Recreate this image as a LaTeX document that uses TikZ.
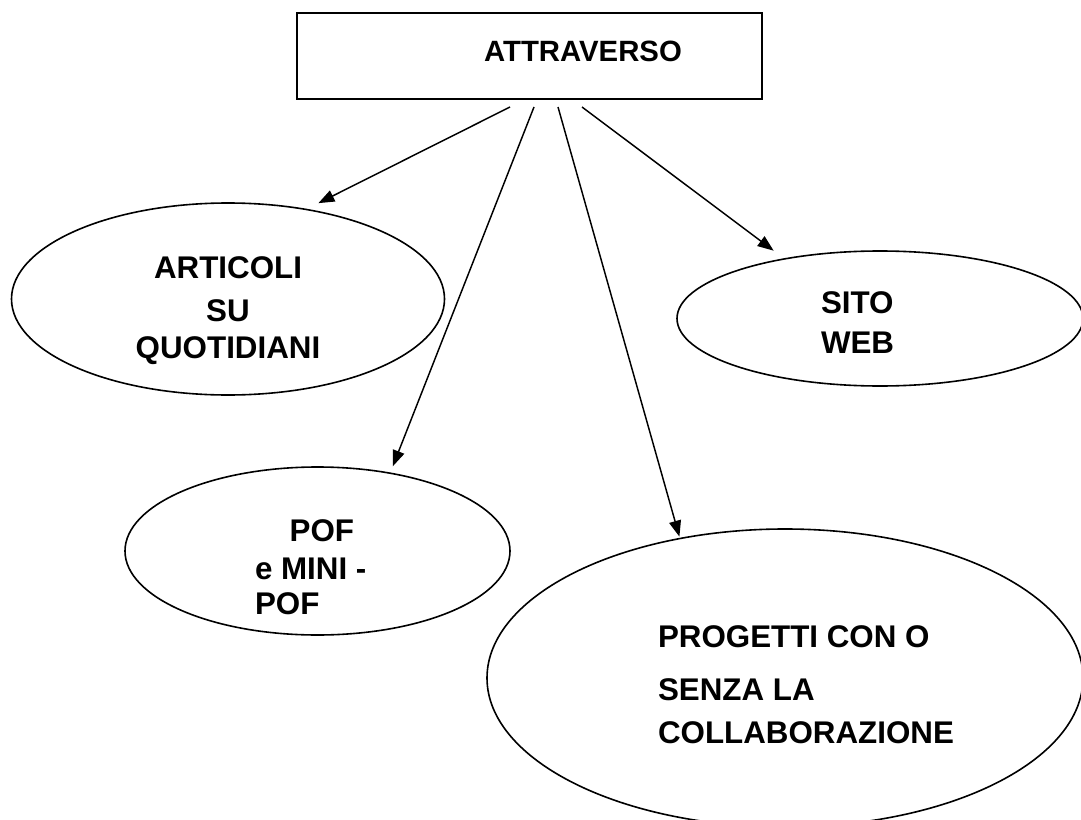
\documentclass[tikz,border=0pt]{standalone}
\usepackage{fontspec}
\setmainfont{Liberation Sans}
\usetikzlibrary{arrows.meta,shapes.geometric}
\begin{document}
\begin{tikzpicture}[x=0.75pt,y=-0.75pt,
  box/.style={draw,line width=1.5pt,rectangle,inner sep=0pt,outer sep=0pt},
  oval/.style={draw,line width=1.2pt,ellipse,inner sep=0pt,outer sep=0pt},
  txt/.style={inner sep=0pt,outer sep=0pt,font=\bfseries\fontsize{23.5}{27.75}\selectfont},
  arr/.style={line width=1.1pt,-{Triangle[length=12pt,width=9pt]}}]
\useasboundingbox (0,0) rectangle (1081,820);
% top box
\node[box,minimum width=348.75pt,minimum height=64.5pt] (top) at (529.5,56) {};
\node[txt,anchor=base,font=\bfseries\fontsize{22}{26}\selectfont] (toptxt) at (583,62) {ATTRAVERSO};
% ellipses
\node[oval,minimum width=324.75pt,minimum height=144pt] (art) at (228,299) {};
\node[oval,minimum width=304.5pt,minimum height=101.25pt] (sito) at (880,318.5) {};
\node[oval,minimum width=288.75pt,minimum height=126pt] (pof) at (317.5,551) {};
\node[oval,minimum width=447pt,minimum height=223.5pt] (prog) at (785,678) {};
% texts
\node[txt,align=center] (arttxt) at (228,311) {ARTICOLI\\[4.5pt]SU\\QUOTIDIANI};
\node[txt,align=left,anchor=west,font=\bfseries\fontsize{23.5}{30}\selectfont] (sitotxt) at (821,323) {SITO\\WEB};
\node[txt,align=left,anchor=west,font=\bfseries\fontsize{23.5}{26.25}\selectfont] (poftxt) at (255,567.5) {\hspace*{26pt}POF\\[2.25pt]e MINI -\\POF};
\node[txt,align=left,anchor=west,font=\bfseries\fontsize{23.5}{32.25}\selectfont] (progtxt) at (658,685) {PROGETTI CON O\\[7.5pt]SENZA LA\\COLLABORAZIONE};
% connector start points
\coordinate (s1) at (510,107);
\coordinate (s2) at (534,107);
\coordinate (s3) at (558,107);
\coordinate (s4) at (582,107);
% connectors
\draw[arr,shorten >=10.5pt] (s1) -- (art.49.2);
\draw[arr,shorten >=5.5pt] (s2) -- (pof.47.96);
\draw[arr,shorten >=1.5pt] (s3) -- (prog.127.7);
\draw[arr,shorten >=10.3pt] (s4) -- (sito.148.1);
\end{tikzpicture}
\end{document}
